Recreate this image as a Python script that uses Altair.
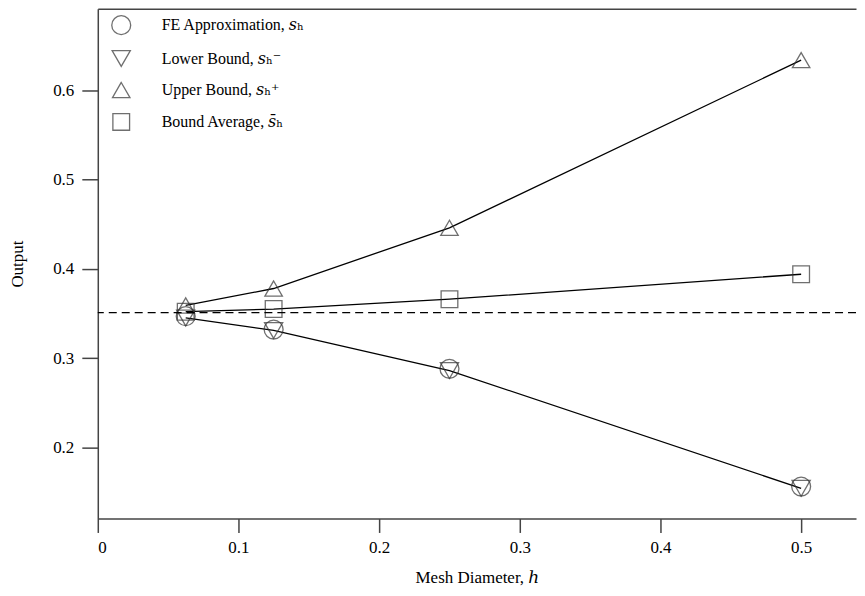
import altair as alt
import pandas as pd

# ---- data ----
h = [0.0625, 0.125, 0.25, 0.5]
fe_approx = [0.347, 0.332, 0.288, 0.156]
lower_bound = [0.345, 0.331, 0.286, 0.154]
upper_bound = [0.359, 0.378, 0.446, 0.634]
bound_average = [0.352, 0.355, 0.366, 0.394]
reference_value = 0.351

series_names = [
    "FE Approximation, 𝑠ₕ",
    "Lower Bound, 𝑠ₕ⁻",
    "Upper Bound, 𝑠ₕ⁺",
    "Bound Average, 𝑠̄ₕ",
]
series_values = [fe_approx, lower_bound, upper_bound, bound_average]
line_series = series_names[1:]
x_ticks = [0, 0.1, 0.2, 0.3, 0.4, 0.5]
y_ticks = [0.2, 0.3, 0.4, 0.5, 0.6]

rows = []
for name, vals in zip(series_names, series_values):
    for hv, v in zip(h, vals):
        rows.append({"h": hv, "value": v, "series": name})
df = pd.DataFrame(rows)

FONT = "Liberation Serif, DejaVu Serif, serif"
x_scale = alt.Scale(domain=[0, 0.539], nice=False, zero=False)
y_scale = alt.Scale(domain=[0.1202, 0.6917], nice=False, zero=False)
y_axis = alt.Axis(title="Output", values=y_ticks, format=".1f")

base = alt.Chart(df)

lines = base.transform_filter(
    alt.FieldOneOfPredicate(field="series", oneOf=line_series)
).mark_line(color="black", strokeWidth=1.3).encode(
    x=alt.X("h:Q", scale=x_scale,
            axis=alt.Axis(title="Mesh Diameter, ℎ", values=x_ticks,
                          labelExpr="datum.value == 0 ? '0' : format(datum.value, '.1f')")),
    y=alt.Y("value:Q", scale=y_scale, axis=y_axis),
    detail="series:N",
)

points = base.mark_point(filled=False, strokeWidth=1.3, color="#333333").encode(
    x=alt.X("h:Q", scale=x_scale, axis=None),
    y=alt.Y("value:Q", scale=y_scale, axis=y_axis),
    shape=alt.Shape("series:N",
                    scale=alt.Scale(domain=series_names,
                                    range=["circle", "triangle-down", "triangle-up", "square"]),
                    legend=alt.Legend(title=None, orient="none", legendX=13, legendY=6)),
    size=alt.Size("series:N",
                  scale=alt.Scale(domain=series_names, range=[360, 280, 280, 250]),
                  legend=alt.Legend(title=None, orient="none", legendX=13, legendY=6)),
)

ref = alt.Chart(pd.DataFrame({"v": [reference_value]})).mark_rule(
    color="black", strokeWidth=1.2, strokeDash=[8, 5]
).encode(y=alt.Y("v:Q", scale=y_scale, axis=y_axis))

top_frame = base.mark_line(opacity=0).encode(
    x=alt.X("h:Q", scale=x_scale,
            axis=alt.Axis(orient="top", labels=False, ticks=False, title=None, domain=True)),
    y=alt.Y("value:Q", scale=y_scale, axis=y_axis),
    detail="series:N",
)

chart = alt.layer(lines, points, ref, top_frame).resolve_axis(
    x="independent", y="shared"
).properties(width=760, height=511, padding=0).configure_view(stroke=None).configure_axis(
    grid=False,
    domainColor="#444",
    domainWidth=1.5,
    tickColor="#444",
    tickWidth=1.5,
    tickSize=14,
    labelFont=FONT,
    labelFontSize=17,
    labelColor="black",
    labelPadding=7,
    titleFont=FONT,
    titleFontSize=17,
    titleFontWeight="normal",
    titleColor="black",
).configure_axisLeft(titlePadding=26, tickSize=16, labelPadding=8).configure_axisBottom(
    titlePadding=14, labelPadding=7
).configure_legend(
    labelFont=FONT,
    labelFontSize=16,
    labelColor="black",
    symbolStrokeColor="#333333",
    symbolStrokeWidth=1.3,
    rowPadding=10,
    labelOffset=30,
    padding=0,
)

chart.save("out.html", embed_options={"renderer": "svg", "actions": False})
